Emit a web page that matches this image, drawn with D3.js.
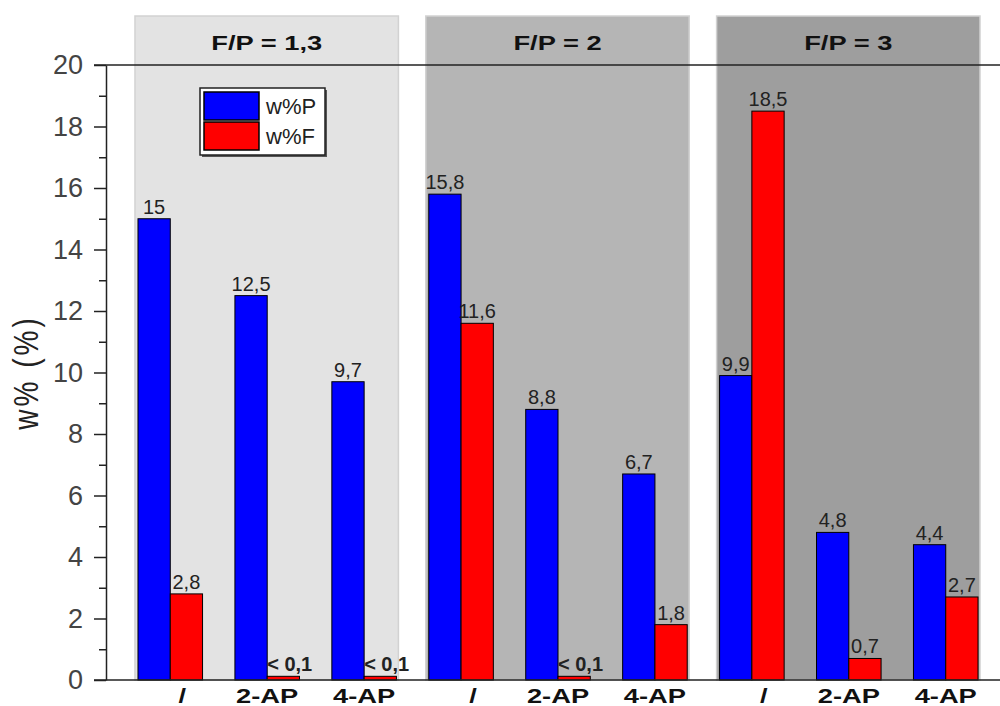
<!DOCTYPE html>
<html>
<head>
  <meta charset="utf-8">
  <title>w% by F/P ratio</title>
  <script src="https://d3js.org/d3.v7.min.js"></script>
  <style>
    body { margin: 0; background: white; }
    text { font-family: Arial, "Liberation Sans", sans-serif; }
    .ylab text { font-size: 27px; fill: #444; }
    .cat { font-size: 21px; font-weight: bold; fill: #111; }
    .ptitle { font-size: 21px; font-weight: bold; fill: #111; }
    .val { font-size: 20px; fill: #222; }
  </style>
</head>
<body>
<div id="chart"></div>
<script>
// data
var panels = ["F/P = 1,3", "F/P = 2", "F/P = 3"];
var panelFill = ["#e3e3e3", "#b5b5b5", "#9e9e9e"];
var categories = ["/", "2-AP", "4-AP"];
var series = ["w%P", "w%F"];
var seriesColor = ["#0000ff", "#ff0000"];
var wP = [15, 12.5, 9.7, 15.8, 8.8, 6.7, 9.9, 4.8, 4.4];
var wF = [2.8, 0.12, 0.12, 11.6, 0.12, 1.8, 18.5, 0.7, 2.7];
var wPLabels = ["15", "12,5", "9,7", "15,8", "8,8", "6,7", "9,9", "4,8", "4,4"];
var wFLabels = ["2,8", "< 0,1", "< 0,1", "11,6", "< 0,1", "1,8", "18,5", "0,7", "2,7"];
var yTicks = [0, 2, 4, 6, 8, 10, 12, 14, 16, 18, 20];

var W = 1000, H = 706;
var svg = d3.select("#chart").append("svg")
    .attr("width", W).attr("height", H);

var y = d3.scaleLinear().domain([0, 20]).range([680, 65]);
var x = d3.scaleBand()
    .domain(d3.range(wP.length))
    .range([106, 1010])
    .paddingInner(0.334)
    .paddingOuter(0.33);
var xs = d3.scaleBand().domain([0, 1]).range([0, x.bandwidth()]);

// panel backgrounds
panels.forEach(function(p, i) {
  var l = x(i * 3) - 3, r = x(i * 3 + 2) + x.bandwidth() + 2;
  svg.append("rect")
      .attr("x", l).attr("y", 16)
      .attr("width", r - l).attr("height", y(0) - 16)
      .attr("fill", panelFill[i])
      .attr("stroke", "#d2d2d2").attr("stroke-width", 1.5);
  svg.append("text").attr("class", "ptitle")
      .attr("transform", "translate(" + ((l + r) / 2) + ",50) scale(1.3,1)")
      .attr("text-anchor", "middle")
      .text(p);
});

// top line
svg.append("line")
    .attr("x1", 94).attr("x2", 1000)
    .attr("y1", y(20)).attr("y2", y(20))
    .attr("stroke", "#222").attr("stroke-width", 1.5);

// bars
var rows = wP.map(function(v, i) {
  return [{i: i, s: 0, v: v, lab: wPLabels[i]}, {i: i, s: 1, v: wF[i], lab: wFLabels[i]}];
});
var flat = [].concat.apply([], rows);

svg.selectAll(".bar").data(flat).enter().append("rect")
    .attr("class", "bar")
    .attr("x", function(d) { return x(d.i) + xs(d.s); })
    .attr("y", function(d) { return y(d.v); })
    .attr("width", xs.bandwidth())
    .attr("height", function(d) { return y(0) - y(d.v); })
    .attr("fill", function(d) { return seriesColor[d.s]; })
    .attr("stroke", "#000").attr("stroke-width", 1);

svg.selectAll(".val").data(flat).enter().append("text")
    .attr("class", "val")
    .attr("x", function(d) {
      var bx = x(d.i) + xs(d.s);
      return d.lab.indexOf("<") === 0 ? bx : bx + xs.bandwidth() / 2;
    })
    .attr("y", function(d) { return y(d.v) - 5; })
    .attr("text-anchor", function(d) { return d.lab.indexOf("<") === 0 ? "start" : "middle"; })
    .style("font-weight", function(d) { return d.lab.indexOf("<") === 0 ? "bold" : "normal"; })
    .text(function(d) { return d.lab; });

// x axis line + category labels
svg.append("line")
    .attr("x1", 94).attr("x2", 1000)
    .attr("y1", y(0)).attr("y2", y(0))
    .attr("stroke", "#222").attr("stroke-width", 1.5);

svg.selectAll(".cat").data(wP).enter().append("text")
    .attr("class", "cat")
    .attr("transform", function(d, i) {
      var cx = x(i) + x.bandwidth() / 2 + (i % 3 === 0 ? 12 : 0);
      return "translate(" + cx + ",703) scale(1.3,1)";
    })
    .attr("text-anchor", "middle")
    .text(function(d, i) { return categories[i % 3]; });

// y axis
var yAxis = svg.append("g").attr("class", "ylab")
    .attr("transform", "translate(106,0)")
    .call(d3.axisLeft(y).tickValues(yTicks).tickSize(12).tickSizeOuter(0).tickPadding(11));
yAxis.select(".domain").attr("stroke", "#222").attr("stroke-width", 1.5);
yAxis.selectAll(".tick line").attr("stroke", "#222").attr("stroke-width", 1.5);
yAxis.selectAll(".tick text").attr("fill", "#444");

svg.append("g")
    .attr("transform", "translate(106,0)")
    .call(d3.axisLeft(y).tickValues(d3.range(1, 20, 2)).tickSize(7).tickSizeOuter(0).tickFormat(""))
    .call(function(g) {
      g.select(".domain").remove();
      g.selectAll(".tick line").attr("stroke", "#222").attr("stroke-width", 1.5);
    });

svg.append("text")
    .attr("transform", "translate(38," + ((y(0) + y(20)) / 2) + ") rotate(-90) scale(1,1.25)")
    .attr("text-anchor", "middle")
    .style("font-size", "28px").style("letter-spacing", "3px").attr("fill", "#222")
    .text("w% (%)");

// legend
var lg = svg.append("g").attr("transform", "translate(200,88)");
lg.append("rect").attr("x", 2).attr("y", 2).attr("width", 125).attr("height", 67).attr("fill", "#555");
lg.append("rect").attr("width", 125).attr("height", 67)
    .attr("fill", "white").attr("stroke", "#222").attr("stroke-width", 1.5);
series.forEach(function(s, i) {
  lg.append("rect")
      .attr("x", 4).attr("y", 4 + i * 30)
      .attr("width", 55).attr("height", 28)
      .attr("fill", seriesColor[i]).attr("stroke", "#000").attr("stroke-width", 1.5);
  lg.append("text")
      .attr("x", 66).attr("y", 26 + i * 30)
      .style("font-size", "22px").attr("fill", "#222")
      .text(s);
});
</script>
</body>
</html>
